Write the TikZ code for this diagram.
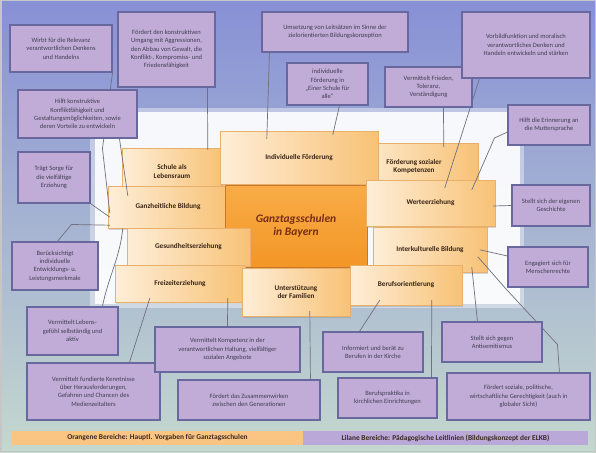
\documentclass[tikz,border=0pt]{standalone}
\usepackage{fontspec}
\setmainfont{Carlito}
\usetikzlibrary{calc,shadows}
\definecolor{bgTop}{RGB}{136,144,214}
\definecolor{bgMid}{RGB}{180,188,238}
\definecolor{bgBot}{RGB}{196,216,206}
\definecolor{purpFill}{RGB}{192,172,214}
\definecolor{purpLine}{RGB}{104,104,158}
\definecolor{purpText}{RGB}{66,62,86}
\definecolor{orL}{RGB}{254,238,216}
\definecolor{orR}{RGB}{248,194,118}
\definecolor{orLine}{RGB}{232,176,106}
\definecolor{orText}{RGB}{55,36,22}
\definecolor{ctrTop}{RGB}{248,172,70}
\definecolor{ctrBot}{RGB}{243,150,38}
\definecolor{ctrLine}{RGB}{200,120,40}
\definecolor{ctrText}{RGB}{120,46,18}
\definecolor{connC}{RGB}{112,112,128}
\definecolor{legOr}{RGB}{250,196,130}
\definecolor{legPu}{RGB}{186,168,216}
\definecolor{legText}{RGB}{60,42,34}
\pgfdeclarelayer{bg}\pgfdeclarelayer{orange}\pgfdeclarelayer{lines}
\pgfsetlayers{bg,orange,lines,main}
\tikzset{
 pbox/.style={draw=purpLine, line width=1.1pt, fill=purpFill, text=purpText, align=center,
   font=\fontsize{6.5}{8.3}\selectfont, inner sep=1pt},
 obox/.style={draw=orLine, line width=0.4pt, left color=orL, right color=orR, text=orText,
   font=\fontsize{7.2}{8.7}\selectfont\bfseries, align=center, inner sep=1pt,
   drop shadow={shadow xshift=1.2pt, shadow yshift=-1.5pt, opacity=0.3}},
 cbox/.style={draw=ctrLine, line width=0.6pt, top color=ctrTop, bottom color=ctrBot, text=ctrText,
   font=\fontsize{11.5}{13}\selectfont\bfseries\itshape, align=center,
   drop shadow={shadow xshift=1.2pt, shadow yshift=-1.5pt, opacity=0.3}},
 conn/.style={draw=connC, line width=0.7pt},
 legbar/.style={inner sep=0pt, text=legText, font=\fontsize{7.4}{8}\selectfont\bfseries},
}
\begin{document}
\begin{tikzpicture}[x=1pt,y=-1pt]
\useasboundingbox (0,0) rectangle (596,452);
\begin{pgfonlayer}{bg}
 \shade[top color=bgTop, middle color=bgMid, bottom color=bgBot] (0,0) rectangle (596,452);
 \fill[white, opacity=0.4] (90,108) rectangle (524,308);
 \fill[white, opacity=0.88] (95,112) rectangle (520,304);
 \draw[gray!45, line width=1.5pt] (0.75,0.75) rectangle (595.25,451.25);
\end{pgfonlayer}

% orange boxes
\begin{pgfonlayer}{orange}
 \node[obox, minimum width=100pt, minimum height=47pt] (oSchule) at (172,171.5) {Schule als\\Lebensraum};
 \node[obox, minimum width=128pt, minimum height=47pt] (oSozial) at (414,166.5) {Förderung sozialer\\Kompetenzen};
 \node[obox, minimum width=158pt, minimum height=53pt] (oIndiv) at (299,157.5) {Individuelle Förderung};
 \node[obox, minimum width=120pt, minimum height=42pt] (oGanz) at (168,207) {Ganzheitliche Bildung};
 \node[cbox, minimum width=142pt, minimum height=82pt] (oCenter) at (296,226) {Ganztagsschulen\\in Bayern};
 \node[obox, minimum width=129pt, minimum height=46pt] (oWerte) at (430.5,203) {Werteerziehung};
 \node[obox, minimum width=123pt, minimum height=38pt] (oGesund) at (188.5,247) {Gesundheitserziehung};
 \node[obox, minimum width=114pt, minimum height=45pt] (oInter) at (430,249.5) {Interkulturelle Bildung};
 \node[obox, minimum width=130pt, minimum height=37pt] (oFrei) at (180,283.5) {Freizeiterziehung};
 \node[obox, minimum width=108pt, minimum height=48pt] (oFam) at (296,292) {Unterstützung\\der Familien};
 \node[obox, minimum width=112pt, minimum height=40pt] (oBeruf) at (406,285) {Berufsorientierung};
\end{pgfonlayer}

% purple boxes
\node[pbox, minimum width=102pt, minimum height=47pt] (p1) at (61,48.5) {Wirbt für die Relevanz\\verantwortlichen Denkens\\und Handelns};
\node[pbox, minimum width=97pt, minimum height=75pt] (p2) at (166.5,49.5) {Fördert den konstruktiven\\Umgang mit Aggressionen,\\den Abbau von Gewalt, die\\Konflikt-, Kompromiss- und\\Friedensfähigkeit};
\node[pbox, minimum width=119pt, minimum height=48pt] (p3) at (77.5,114) {Hilft konstruktive\\Konfliktfähigkeit und\\Gestaltungsmöglichkeiten, sowie\\deren Vorteile zu entwickeln};
\node[pbox, minimum width=146pt, minimum height=40pt] (p4) at (335,32) {Umsetzung von Leitsätzen im Sinne der\\zielorientierten Bildungskonzeption};
\node[pbox, minimum width=81pt, minimum height=42pt] (p5) at (327.5,84) {individuelle\\Förderung in\\„Einer Schule für\\alle“};
\node[pbox, minimum width=87pt, minimum height=40pt] (p6) at (428.5,87) {Vermittelt Frieden,\\Toleranz,\\Verständigung};
\node[pbox, minimum width=128pt, minimum height=66pt] (p7) at (526,45) {Vorbildfunktion und moralisch\\verantwortliches Denken und\\Handeln entwickeln und stärken};
\node[pbox, minimum width=82pt, minimum height=40pt] (p8) at (549,125) {Hilft die Erinnerung an\\die Muttersprache};
\node[pbox, minimum width=72pt, minimum height=51pt] (p9) at (54,177.5) {Trägt Sorge für\\die vielfältige\\Erziehung};
\node[pbox, minimum width=86pt, minimum height=48pt] (p10) at (55,266) {Berücksichtigt\\individuelle\\Entwicklungs- u.\\Leistungsmerkmale};
\node[pbox, minimum width=78pt, minimum height=41pt] (p11) at (551,205.5) {Stellt sich der eigenen\\Geschichte};
\node[pbox, minimum width=80pt, minimum height=40pt] (p12) at (548,267) {Engagiert sich für\\Menschenrechte};
\node[pbox, minimum width=91pt, minimum height=48pt] (p13) at (72.5,331) {Vermittelt Lebens-\\gefühl selbständig und\\aktiv};
\node[pbox, minimum width=133pt, minimum height=57pt] (p14) at (93.5,391.5) {Vermittelt fundierte Kenntnisse\\über Herausforderungen,\\Gefahren und Chancen des\\Medienzeitalters};
\node[pbox, minimum width=145pt, minimum height=45pt] (p15) at (227.5,349.5) {Vermittelt Kompetenz in der\\verantwortlichen Haltung, vielfältiger\\sozialen Angebote};
\node[pbox, minimum width=142pt, minimum height=40pt] (p16) at (249,400) {Fördert das Zusammenwirken\\zwischen den Generationen};
\node[pbox, minimum width=100pt, minimum height=40pt] (p17) at (373,352) {Informiert und berät zu\\Berufen in der Kirche};
\node[pbox, minimum width=99pt, minimum height=40pt] (p18) at (387.5,398) {Berufspraktika in\\kirchlichen Einrichtungen};
\node[pbox, minimum width=100pt, minimum height=40pt] (p19) at (492,342) {Stellt sich gegen\\Antisemitismus};
\node[pbox, minimum width=143pt, minimum height=47pt] (p20) at (518.5,396.5) {Fördert soziale, politische,\\wirtschaftliche Gerechtigkeit (auch in\\globaler Sicht)};

% legend
\node[legbar, fill=legOr, minimum width=291pt, minimum height=14pt] (legO) at (157.5,438) {Orangene Bereiche: Hauptl. Vorgaben für Ganztagsschulen};
\node[legbar, fill=legPu, minimum width=285pt, minimum height=14pt] (legP) at (445.5,438) {Lilane Bereiche: Pädagogische Leitlinien (Bildungskonzept der ELKB)};

% connectors
\begin{pgfonlayer}{lines}
 \draw[conn] (p1.south east) -- ($(p3.south west)+(85,10)$) -- ($(oGanz.south west)+(2,-15)$);
 \draw[conn] ($(p3.south west)+(102,0)$) -- ($(oGanz.north west)+(20,10)$);
 \draw[conn] (p9.south east) -- ($(oGanz.south west)+(2,-11)$);
 \draw[conn] ($(p10.north west)+(46,0)$) -- ($(p10.north west)+(60,-17)$) -- ($(oGanz.south west)+(2,-3)$);
 \draw[conn] ($(p13.north west)+(76,0)$) .. controls ($(p13.north west)+(82,-30)$) and ($(oGanz.south west)+(12,30)$) .. ($(oGanz.south west)+(15,0)$);
 \draw[conn] ($(p2.south west)+(90,0)$) -- ($(oSchule.north west)+(86,2)$);
 \draw[conn] ($(p4.south west)+(8,0)$) -- ($(oIndiv.north west)+(47,8)$);
 \draw[conn] ($(p5.south west)+(53,0)$) -- ($(oIndiv.north west)+(113,4)$);
 \draw[conn] ($(p6.south west)+(59,0)$) -- ($(oSozial.north west)+(94,4)$);
 \draw[conn] ($(p7.south west)+(18,0)$) -- ($(oWerte.north west)+(79,8)$);
 \draw[conn] ($(p8.west)+(0,7)$) -- ($(p8.west)+(-13,13)$) -- ($(oWerte.north west)+(106,10)$);
 \draw[conn] (p11.west) -- ($(oWerte.east)+(-2,3)$);
 \draw[conn] ($(p12.west)+(0,-11)$) -- ($(oInter.north west)+(107,23)$);
 \draw[conn] ($(p19.north west)+(36,0)$) -- ($(oInter.south west)+(99,-5)$);
 \draw[conn] ($(p20.north west)+(113,0)$) -- ($(p20.north west)+(111,-28)$) -- ($(p20.north west)+(60,-83)$) -- ($(oInter.north west)+(105,30)$);
 \draw[conn] ($(p17.north west)+(37,0)$) -- ($(oBeruf.south west)+(30,-5)$);
 \draw[conn] ($(p18.north west)+(94,0)$) -- ($(oBeruf.south west)+(82,-5)$);
 \draw[conn] ($(p16.north west)+(133,0)$) -- ($(oFam.south west)+(68,-5)$);
 \draw[conn] ($(p15.north west)+(73,0)$) -- ($(oFrei.south west)+(113,-4)$);
 \draw[conn] ($(p14.north west)+(103,0)$) -- ($(oFrei.south west)+(35,-4)$);
\end{pgfonlayer}
\end{tikzpicture}
\end{document}
